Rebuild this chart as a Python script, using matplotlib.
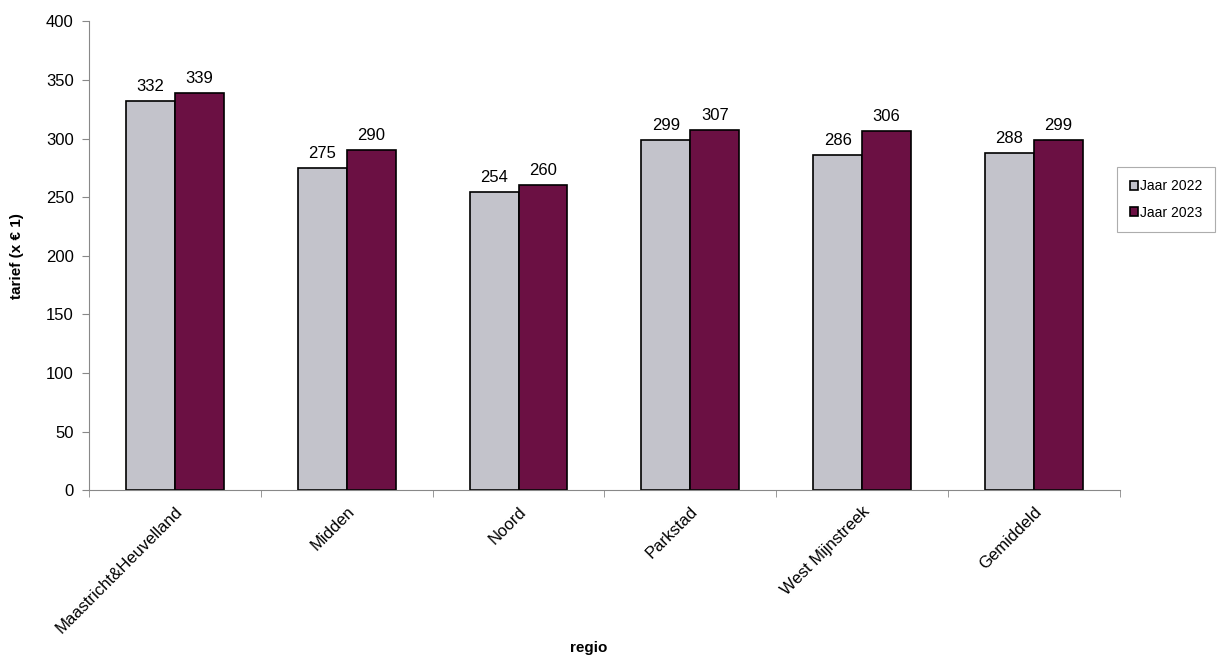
import numpy as np
import matplotlib.pyplot as plt

plt.rcParams['font.family'] = ['Liberation Sans', 'DejaVu Sans']

# ------------------------------------------------------------
# Data
# ------------------------------------------------------------
regions = ["Maastricht&Heuvelland", "Midden", "Noord", "Parkstad",
           "West Mijnstreek", "Gemiddeld"]
jaar_2022 = [332, 275, 254, 299, 286, 288]
jaar_2023 = [339, 290, 260, 307, 306, 299]

gray = "#c3c3cb"
purple = "#6b1043"

fig = plt.figure(figsize=(12.3, 6.66), dpi=100)
ax = fig.add_axes([0.0724, 0.264, 0.838, 0.704])

x = np.arange(len(regions))
w = 0.285
b1 = ax.bar(x - w/2, jaar_2022, w, color=gray, edgecolor="black",
            linewidth=1.2, label="Jaar 2022")
b2 = ax.bar(x + w/2, jaar_2023, w, color=purple, edgecolor="black",
            linewidth=1.2, label="Jaar 2023")

for bars, vals in ((b1, jaar_2022), (b2, jaar_2023)):
    for r, v in zip(bars, vals):
        ax.text(r.get_x() + r.get_width()/2, v + 6, str(v),
                ha="center", va="bottom", fontsize=12)

ax.set_xlim(-0.5, len(regions) - 0.5)
ax.set_ylim(0, 400)
ax.set_yticks(range(0, 401, 50))
ax.tick_params(axis="y", labelsize=12, length=5, color="#888888", pad=6)

# category labels between boundary ticks, like Excel
ax.set_xticks(x)
ax.set_xticklabels(regions, rotation=45, ha="right", rotation_mode="anchor",
                   fontsize=12)
ax.tick_params(axis="x", length=0, pad=10)
ax.set_xticks(np.arange(-0.5, len(regions)), minor=True)
ax.tick_params(axis="x", which="minor", length=5, color="#888888")

for s in ("top", "right"):
    ax.spines[s].set_visible(False)
for s in ("left", "bottom"):
    ax.spines[s].set_color("#888888")
    ax.spines[s].set_linewidth(0.8)

ax.set_ylabel("tarief (x € 1)", fontsize=11, fontweight="bold", labelpad=16)
fig.text(0.4785, 0.017, "regio", ha="center", va="bottom",
         fontsize=11, fontweight="bold")

leg = ax.legend(loc="center left", bbox_to_anchor=(0.9975, 0.62), fontsize=10,
                frameon=True, fancybox=False, edgecolor="#999999",
                handlelength=0.6, handleheight=0.6, handletextpad=0.15,
                borderpad=0.9, labelspacing=0.9, borderaxespad=0)
leg.get_frame().set_linewidth(0.8)

fig.savefig("out.png", dpi=100)
